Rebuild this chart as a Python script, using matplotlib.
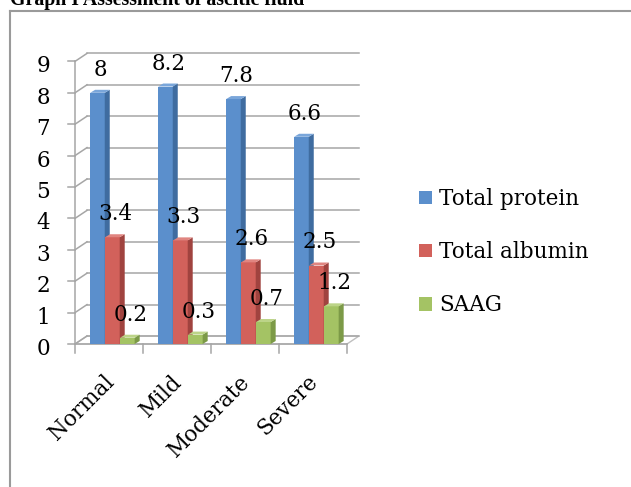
import matplotlib
matplotlib.use("Agg")
import matplotlib.pyplot as plt
from matplotlib.patches import Polygon
from matplotlib.lines import Line2D

# ---- data ----
categories = ["Normal", "Mild", "Moderate", "Severe"]
series_names = ["Total protein", "Total albumin", "SAAG"]
total_protein = [8, 8.2, 7.8, 6.6]
total_albumin = [3.4, 3.3, 2.6, 2.5]
saag = [0.2, 0.3, 0.7, 1.2]
y_ticks = list(range(0, 10))

series_values = [total_protein, total_albumin, saag]

# ---- styling ----
W, H, DPI = 631, 487, 100
front_cols = ["#5B8FCC", "#D2615B", "#A4C364"]
side_cols = ["#3F6CA0", "#A0433F", "#7C9A47"]
top_cols = ["#7AA6DA", "#E08580", "#BCD488"]
grid_col = "#A6A6A6"
serif = ["DejaVu Serif"]
fs = 15.5

fig = plt.figure(figsize=(W / DPI, H / DPI), dpi=DPI)
fig.patch.set_facecolor("white")

# front plane of the 3-D plot box
ax_left, ax_w = 75 / W, 272 / W
ax_bottom, ax_h = (H - 344) / H, 282.6 / H
ax = fig.add_axes([ax_left, ax_bottom, ax_w, ax_h])
ax.set_xlim(0, len(categories))
ax.set_ylim(0, 9)
ax.axis("off")

px_x = len(categories) / (ax_w * W)   # data units per pixel (x)
px_y = 9 / (ax_h * H)                 # data units per pixel (y)

# depth offsets (pixels) for back wall and bar depth
wall_dx, wall_dy = 12 * px_x, 8 * px_y
bar_dx, bar_dy = 5 * px_x, 3 * px_y

ncat = len(categories)

# floor
floor = Polygon([(0, 0), (ncat, 0), (ncat + wall_dx, wall_dy), (wall_dx, wall_dy)],
                closed=True, facecolor="white", edgecolor="#BFBFBF", lw=1.0,
                zorder=1, clip_on=False)
ax.add_patch(floor)

# back-wall gridlines, side-wall diagonals and left ticks
for v in y_ticks:
    ax.plot([wall_dx, ncat + wall_dx], [v + wall_dy, v + wall_dy],
            color=grid_col, lw=1.1, zorder=1, clip_on=False)
    ax.plot([0, wall_dx], [v, v + wall_dy], color=grid_col, lw=1.1,
            zorder=1, clip_on=False)
    ax.plot([-7 * px_x, 0], [v, v], color=grid_col, lw=1.1, zorder=1,
            clip_on=False)
    ax.annotate(str(v), (0, v), xytext=(-25, -5), textcoords="offset pixels",
                ha="right", va="center", fontsize=fs, family=serif,
                annotation_clip=False)
ax.plot([0, 0], [0, 9], color=grid_col, lw=1.1, zorder=1, clip_on=False)

# front floor edge with category tick marks
ax.plot([0, ncat], [0, 0], color=grid_col, lw=1.1, zorder=1.5, clip_on=False)
for i in range(ncat + 1):
    ax.plot([i, i], [0, -9 * px_y], color=grid_col, lw=1.1, zorder=1.5,
            clip_on=False)

# bars
bw = 0.215
offsets = [0.33, 0.55, 0.77]
handles = []
for i in range(ncat):
    for s, vals in enumerate(series_values):
        h = vals[i]
        xc = i + offsets[s]
        x0, x1 = xc - bw / 2, xc + bw / 2
        z = 2 + i * 0.5 + s * 0.1
        b = ax.bar(xc, h, width=bw, color=front_cols[s], edgecolor="none",
                   zorder=z, label=series_names[s] if i == 0 else None)
        if i == 0:
            handles.append(b)
        ax.add_patch(Polygon([(x1, 0), (x1 + bar_dx, bar_dy),
                              (x1 + bar_dx, h + bar_dy), (x1, h)],
                             closed=True, facecolor=side_cols[s],
                             edgecolor="none", zorder=z, clip_on=False))
        ax.add_patch(Polygon([(x0, h), (x1, h), (x1 + bar_dx, h + bar_dy),
                              (x0 + bar_dx, h + bar_dy)],
                             closed=True, facecolor=top_cols[s],
                             edgecolor="none", zorder=z, clip_on=False))

# value labels
for i in range(ncat):
    for s, vals in enumerate(series_values):
        ax.annotate(f"{vals[i]:g}", (i + offsets[s], vals[i]),
                    xytext=(3, 23), textcoords="offset pixels",
                    ha="center", va="center", fontsize=fs, family=serif,
                    zorder=10, annotation_clip=False)

# category labels
for i, c in enumerate(categories):
    ax.annotate(c, (i + 0.5, 0), xytext=(-6, -27), textcoords="offset pixels",
                ha="right", va="top", rotation=45, rotation_mode="anchor",
                fontsize=fs, family=serif, annotation_clip=False)

# legend
fig.legend(handles=handles, labels=series_names, loc="upper left",
           bbox_to_anchor=(419 / W, 1 - 188 / H), frameon=False,
           prop={"family": serif, "size": fs}, handlelength=0.6,
           handleheight=0.6, handletextpad=0.35, labelspacing=1.45,
           borderpad=0, borderaxespad=0)

# page frame and caption
fig.add_artist(Line2D([9.5 / W, 9.5 / W], [-0.01, 1 - 10.5 / H],
                      transform=fig.transFigure, color="#9A9A9A", lw=1.5))
fig.add_artist(Line2D([9.5 / W, 1.01], [1 - 10.5 / H, 1 - 10.5 / H],
                      transform=fig.transFigure, color="#9A9A9A", lw=1.5))
fig.text(10 / W, 1 - 4.5 / H, "Graph I Assessment of ascitic fluid",
         ha="left", va="baseline", fontsize=14.3, fontweight="bold",
         family=["Liberation Serif"])

fig.savefig("out.png", dpi=DPI)
